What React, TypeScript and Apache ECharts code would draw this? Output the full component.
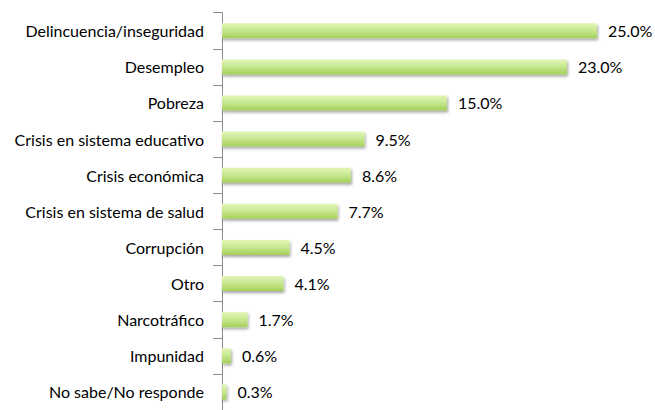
import React, { useEffect, useRef } from "react";
import * as echarts from "echarts";

const categories = [
  "Delincuencia/inseguridad",
  "Desempleo",
  "Pobreza",
  "Crisis en sistema educativo",
  "Crisis económica",
  "Crisis en sistema de salud",
  "Corrupción",
  "Otro",
  "Narcotráfico",
  "Impunidad",
  "No sabe/No responde",
];
const values = [25.0, 23.0, 15.0, 9.5, 8.6, 7.7, 4.5, 4.1, 1.7, 0.6, 0.3];

const FONT = "Lato";

export default function App() {
  const ref = useRef<HTMLDivElement>(null);
  useEffect(() => {
    const chart = echarts.init(ref.current!, null, { renderer: "svg" });
    chart.setOption({
      animation: false,
      grid: { left: 222, width: 420, top: 12.7, height: 405, containLabel: false },
      xAxis: { type: "value", min: 0, max: 28, show: false },
      yAxis: {
        type: "category",
        data: categories,
        inverse: true,
        axisLine: { show: true, lineStyle: { color: "#8c8c8c", width: 1 } },
        axisTick: { show: true, length: 9, lineStyle: { color: "#8c8c8c" } },
        axisLabel: { color: "#000", fontSize: 16, fontFamily: FONT, margin: 18 },
      },
      series: [
        {
          type: "bar",
          data: values,
          barWidth: 15,
          itemStyle: {
            color: new echarts.graphic.LinearGradient(0, 0, 0, 1, [
              { offset: 0, color: "#e2f6b6" },
              { offset: 0.5, color: "#c6e78e" },
              { offset: 1, color: "#a4cf5a" },
            ]),
            shadowColor: "rgba(0,0,0,0.35)",
            shadowBlur: 3,
            shadowOffsetX: 1,
            shadowOffsetY: 2,
          },
          label: {
            show: true,
            position: "right",
            distance: 11,
            color: "#000",
            fontSize: 16,
            fontFamily: FONT,
            formatter: (p: any) => p.value.toFixed(1) + "%",
          },
        },
      ],
    });
    return () => chart.dispose();
  }, []);
  return <div ref={ref} style={{ width: 655, height: 410, position: "absolute", left: 0, top: 0 }} />;
}
